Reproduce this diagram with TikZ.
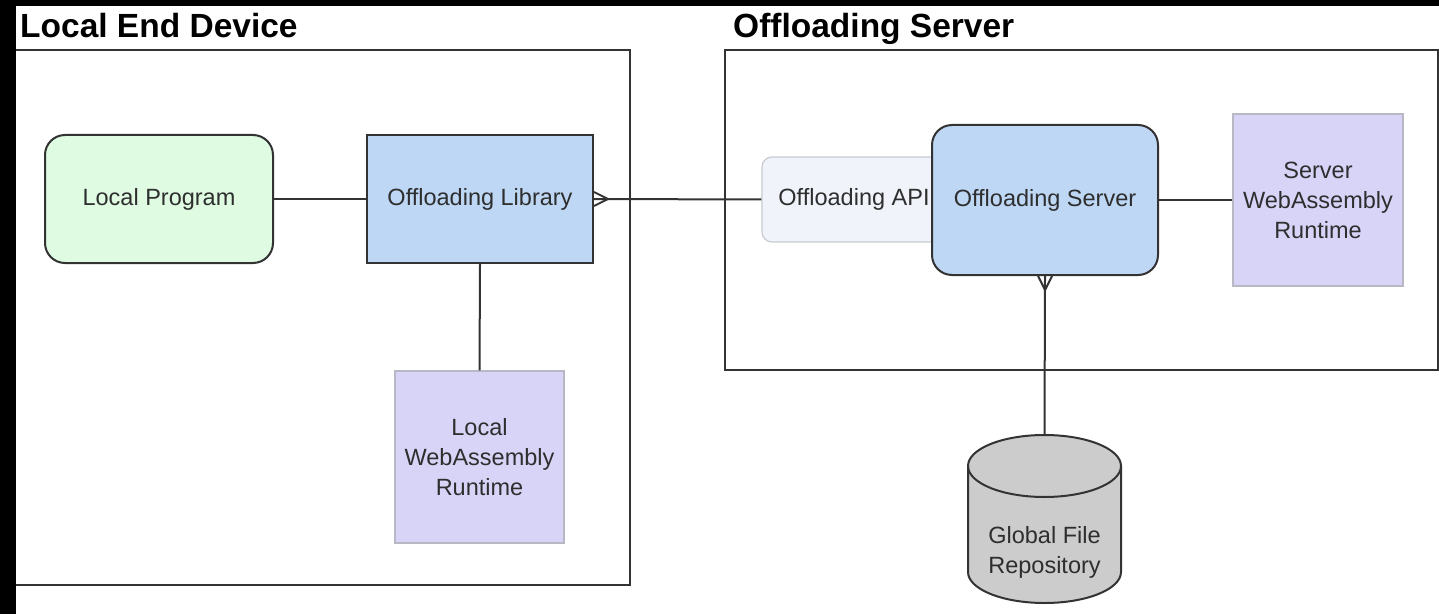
\documentclass[tikz,border=0pt]{standalone}
\usepackage{fontspec}
\setmainfont{Liberation Sans}

\definecolor{ink}{HTML}{333333}
\definecolor{txt}{HTML}{2E2E2E}
\definecolor{progfill}{HTML}{DFFBE2}
\definecolor{libfill}{HTML}{BDD7F5}
\definecolor{apifill}{HTML}{F0F4FA}
\definecolor{apiedge}{HTML}{C8CCD2}
\definecolor{wasmfill}{HTML}{D8D4F8}
\definecolor{wasmedge}{HTML}{B8B8C4}
\definecolor{cylfill}{HTML}{CCCCCC}

\begin{document}
\begin{tikzpicture}[x=1pt,y=1pt,
  lbl/.style={font=\fontsize{23.5}{30}\selectfont, text=txt, align=center},
  heading/.style={font=\fontsize{33.5}{38}\selectfont\bfseries, text=black, inner sep=0pt, anchor=base west},
  container/.style={draw=ink, line width=2pt, fill=none},
  solidbox/.style={lbl, draw=ink, line width=2pt, inner sep=0pt},
  progbox/.style={solidbox, fill=progfill, rounded corners=20pt},
  libbox/.style={solidbox, fill=libfill},
  srvbox/.style={solidbox, fill=libfill, rounded corners=20pt},
  apibox/.style={lbl, draw=apiedge, line width=1.2pt, fill=apifill, rounded corners=10pt, inner sep=0pt},
  wasmbox/.style={lbl, draw=wasmedge, line width=1.2pt, fill=wasmfill, inner sep=0pt},
  conn/.style={draw=ink, line width=2pt},
  cylbody/.style={fill=cylfill, draw=ink, line width=2pt},
]
% page background and frame
\fill[black] (0,0) rectangle (1439,614);
\fill[white] (16,0) rectangle (1439,608);
\useasboundingbox (0,0) rectangle (1439,614);

% the two device containers
\node[container, minimum width=616, minimum height=535] (localbox) at (322,296.5) {};
\node[container, minimum width=713, minimum height=320] (serverbox) at (1081.5,404) {};

% local side
\node[progbox, minimum width=228, minimum height=128] (prog) at (159,415) {\raisebox{-2pt}{Local Program}};
\node[libbox, minimum width=226, minimum height=128] (lib) at (480,415) {\raisebox{-2pt}{Offloading Library}};
\node[wasmbox, minimum width=169, minimum height=172] (lwasm) at (479.5,157) {Local\\WebAssembly\\Runtime};

% server side
\node[apibox, minimum width=184, minimum height=85] (api) at (854,414.5) {\raisebox{-2pt}{Offloading API}};
\node[srvbox, minimum width=226, minimum height=150] (srv) at (1045,414) {\raisebox{-2pt}{Offloading Server}};
\node[wasmbox, minimum width=170, minimum height=172] (swasm) at (1318,414) {Server\\WebAssembly\\Runtime};

% file repository cylinder
\coordinate (repotop) at (1044.5,179);
\path[cylbody] (968,148) -- (968,42)
  arc[start angle=180, end angle=360, x radius=76.5, y radius=31]
  -- (1121,148)
  arc[start angle=0, end angle=180, x radius=76.5, y radius=31] -- cycle;
\draw[conn] (968,148) arc[start angle=180, end angle=360, x radius=76.5, y radius=31];
\node[lbl] (repo) at (1044.5,62) {Global File\\Repository};

% connectors
\draw[conn] (prog.east) -- (lib.west);
\draw[conn] (lib.south) -- (lwasm.north);
\draw[conn] (lib.east) -- (api.west);
\draw[conn] ([yshift=7pt]lib.east) -- ([xshift=14pt]lib.east) -- ([yshift=-7pt]lib.east);
\draw[conn] (srv.east) -- (swasm.west);
\draw[conn] (srv.south) -- (repotop);
\draw[conn] ([xshift=-7pt]srv.south) -- ([yshift=-14pt]srv.south) -- ([xshift=7pt]srv.south);

% black frame strips on top
\fill[black] (0,0) rectangle (16,614);
\fill[black] (0,608) rectangle (1439,614);

% headings
\node[heading] (t1) at (20,576) {Local End Device};
\node[heading] (t2) at (733,576) {Offloading Server};
\end{tikzpicture}
\end{document}
